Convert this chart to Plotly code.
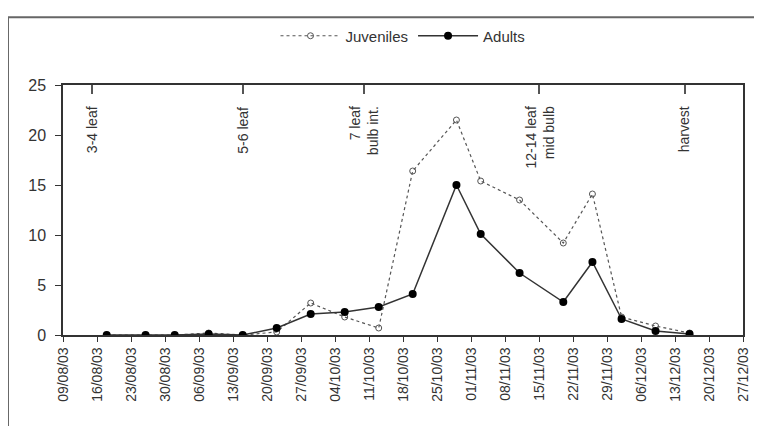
import plotly.graph_objects as go

# Sampling dates
dates = ["2003-08-18", "2003-08-26", "2003-09-01", "2003-09-08", "2003-09-15",
         "2003-09-22", "2003-09-29", "2003-10-06", "2003-10-13", "2003-10-20",
         "2003-10-29", "2003-11-03", "2003-11-11", "2003-11-20", "2003-11-26",
         "2003-12-02", "2003-12-09", "2003-12-16"]
juveniles = [0, 0, 0, 0.2, 0, 0.3, 3.2, 1.8, 0.7, 16.4, 21.5, 15.4, 13.5, 9.2, 14.1, 1.8, 0.9, 0.2]
adults = [0, 0, 0, 0.1, 0, 0.7, 2.1, 2.3, 2.8, 4.1, 15.0, 10.1, 6.2, 3.3, 7.3, 1.6, 0.4, 0.1]

# Crop stage markers
stage_dates = ["2003-08-15", "2003-09-15", "2003-10-10", "2003-11-15", "2003-12-15"]
stage_labels = ["3-4 leaf", "5-6 leaf", "7 leaf<br>bulb int.", "12-14 leaf<br>mid bulb", "harvest"]

x_range = ["2003-08-09", "2003-12-27"]
y_ticks = [0, 5, 10, 15, 20, 25]

font_family = "Liberation Sans, Arial, sans-serif"
txt = "#333333"

fig = go.Figure()
fig.add_trace(go.Scatter(
    x=dates, y=juveniles, name="Juveniles", mode="lines+markers",
    line=dict(color="#555555", width=1.2, dash="dot"),
    marker=dict(symbol="circle-open", size=6, color="#555555", line=dict(width=1)),
))
fig.add_trace(go.Scatter(
    x=dates, y=adults, name="Adults", mode="lines+markers",
    line=dict(color="#333333", width=1.5),
    marker=dict(symbol="circle", size=8, color="#000000"),
))
# invisible trace to activate top axis
fig.add_trace(go.Scatter(x=x_range, y=[None, None], xaxis="x2", showlegend=False,
                         hoverinfo="skip"))

annotations = []
for d, lab in zip(stage_dates, stage_labels):
    annotations.append(dict(
        x=d, y=0.922, xref="x", yref="paper", text=lab, showarrow=False,
        textangle=-90, xanchor="center", yanchor="top", align="right",
        font=dict(size=14, color=txt, family=font_family),
    ))

shapes = [
    dict(type="line", xref="paper", yref="paper", x0=-0.0809, x1=1.05, y0=1.2706, y1=1.2706,
         line=dict(color="#666666", width=2)),
    dict(type="line", xref="paper", yref="paper", x0=-0.0809, x1=-0.0809, y0=1.2706, y1=-0.45,
         line=dict(color="#666666", width=2)),
]

fig.update_layout(
    width=762, height=426,
    margin=dict(l=55, r=27, t=72, b=99),
    paper_bgcolor="white", plot_bgcolor="white",
    font=dict(family=font_family, size=14, color=txt),
    xaxis=dict(
        type="date", range=x_range, tick0="2003-08-09", dtick=7 * 24 * 3600 * 1000,
        tickformat="%d/%m/%y", tickangle=-90, ticks="outside", ticklen=5,
        tickcolor="#333333", showline=True, linecolor="#333333", linewidth=1.5,
        mirror=True, showgrid=False, zeroline=False,
        tickfont=dict(size=14, color=txt),
    ),
    xaxis2=dict(
        type="date", range=x_range, overlaying="x", side="top", tickmode="array",
        tickvals=stage_dates, ticks="inside", ticklen=9, tickwidth=1.5,
        tickcolor="#555555", showticklabels=False, showgrid=False, showline=False,
        zeroline=False,
    ),
    yaxis=dict(
        range=[0, 25], tickvals=y_ticks, ticks="outside", ticklen=6,
        tickcolor="#333333", showline=True, linecolor="#333333", linewidth=1.5,
        mirror=True, showgrid=False, zeroline=False, ticklabelstandoff=6,
        tickfont=dict(size=16, color=txt),
    ),
    legend=dict(
        orientation="h", x=0.5, xanchor="center", y=1.196, yanchor="middle",
        font=dict(size=15, color=txt), itemwidth=60, bgcolor="rgba(0,0,0,0)",
    ),
    annotations=annotations,
    shapes=shapes,
    showlegend=True,
)

fig.write_html("out.html")
